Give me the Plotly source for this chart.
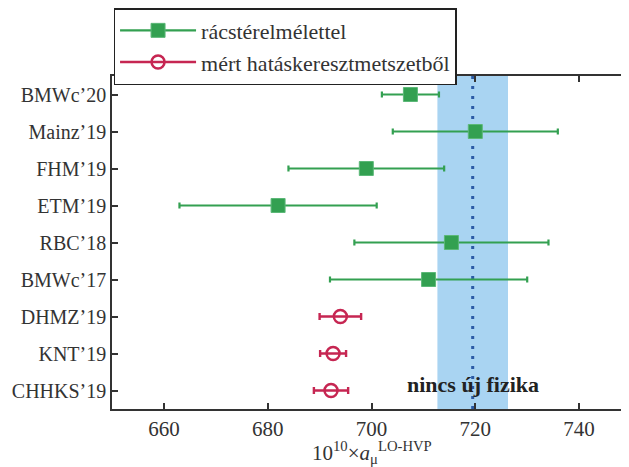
import plotly.graph_objects as go

labels = ["BMWc’20", "Mainz’19", "FHM’19", "ETM’19", "RBC’18", "BMWc’17", "DHMZ’19", "KNT’19", "CHHKS’19"]
lattice_idx = [0, 1, 2, 3, 4, 5]
lattice_val = [707.5, 720.0, 699.0, 682.0, 715.4, 711.0]
lattice_err = [5.5, 15.9, 15.0, 19.0, 18.7, 19.0]
pheno_idx = [6, 7, 8]
pheno_val = [694.0, 692.6, 692.2]
pheno_err = [4.0, 2.5, 3.3]
nonp_center = 719.5
nonp_err = 6.8
xticks = [660, 680, 700, 720, 740]

GREEN = "#33a051"
RED = "#c62652"
FONT = "Liberation Serif"
TXT = "#333333"

fig = go.Figure()

fig.add_shape(type="rect", xref="x", yref="paper", x0=nonp_center - nonp_err, x1=nonp_center + nonp_err,
              y0=0, y1=1, fillcolor="#a9d4f2", line=dict(width=0), layer="below")
fig.add_shape(type="line", xref="x", yref="paper", x0=nonp_center, x1=nonp_center, y0=0, y1=1,
              line=dict(color="#2b5aa5", width=3, dash="3px,7px"), layer="below")

fig.add_trace(go.Scatter(
    x=lattice_val, y=lattice_idx, mode="markers", showlegend=False,
    marker=dict(symbol="square", size=14, color=GREEN, line=dict(color="#5cb878", width=1)),
    error_x=dict(type="data", array=lattice_err, color=GREEN, thickness=2.2, width=3),
))
fig.add_trace(go.Scatter(
    x=pheno_val, y=pheno_idx, mode="markers", showlegend=False,
    marker=dict(symbol="circle-open", size=13, color=RED, line=dict(color=RED, width=2.5)),
    error_x=dict(type="data", array=pheno_err, color=RED, thickness=2.4, width=3.5),
))

# legend entries
fig.add_trace(go.Scatter(
    x=[None], y=[None], mode="lines+markers", name="rácstérelmélettel",
    line=dict(color=GREEN, width=2.2),
    marker=dict(symbol="square", size=14, color=GREEN, line=dict(color="#5cb878", width=1)),
))
fig.add_trace(go.Scatter(
    x=[None], y=[None], mode="lines+markers", name="mért hatáskeresztmetszetből",
    line=dict(color=RED, width=2.4),
    marker=dict(symbol="circle-open", size=13, color=RED, line=dict(color=RED, width=2.5)),
))

fig.add_annotation(x=nonp_center, y=7.84, xref="x", yref="y", text="<b>nincs új fizika</b>",
                   showarrow=False, font=dict(family=FONT, size=22, color="#222222"))

fig.add_annotation(x=0.5, y=-0.18, xref="paper", yref="paper", xanchor="center", yanchor="bottom",
                   text="10<sup>10</sup>×<i>a</i><sub>μ</sub><sup>LO-HVP</sup>", showarrow=False,
                   font=dict(family=FONT, size=21, color=TXT))

fig.update_layout(
    width=629, height=467,
    margin=dict(l=104, r=6, t=68, b=66, autoexpand=False),
    paper_bgcolor="white", plot_bgcolor="white",
    font=dict(family=FONT, size=21, color=TXT),
    legend=dict(x=0.003, y=1.204, xanchor="left", yanchor="top", bordercolor="#222222", borderwidth=1.5,
                font=dict(family=FONT, size=22, color=TXT), bgcolor="white",
                itemwidth=76, tracegroupgap=0),
    xaxis=dict(range=[650, 750], tickvals=xticks, ticks="inside", ticklen=6, tickwidth=1.5,
               tickcolor=TXT, showline=True, linecolor=TXT, linewidth=1.5, mirror="ticks",
               showgrid=False, zeroline=False, tickfont=dict(size=21)),
    yaxis=dict(range=[8.5, -0.5], tickvals=list(range(len(labels))), ticktext=labels,
               ticks="inside", ticklen=6, tickwidth=1.5, tickcolor=TXT,
               showline=True, linecolor=TXT, linewidth=1.5, mirror="ticks",
               showgrid=False, zeroline=False, ticklabelstandoff=0, tickfont=dict(size=20)),
)

fig.write_html("out.html")
